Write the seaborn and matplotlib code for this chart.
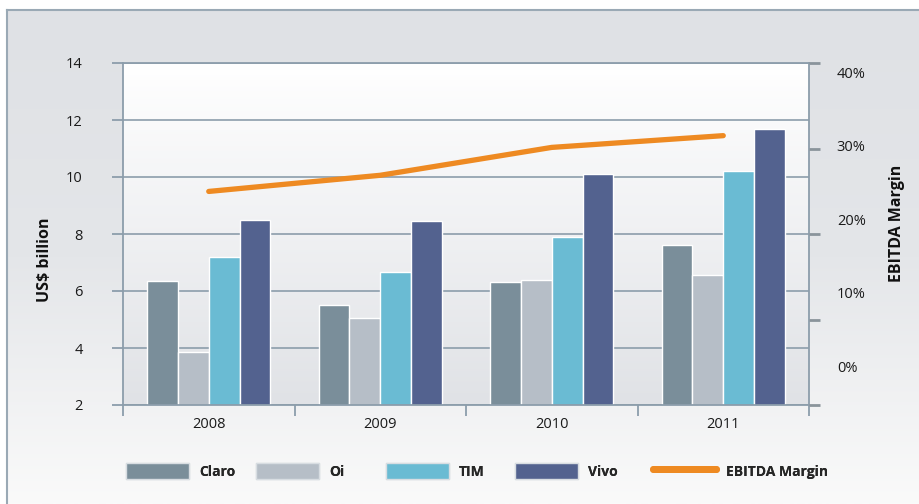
import numpy as np
import pandas as pd
import seaborn as sns
import matplotlib.pyplot as plt
from matplotlib.patches import Patch
from matplotlib.lines import Line2D
from matplotlib.colors import LinearSegmentedColormap

# data
years = ['2008', '2009', '2010', '2011']
operators = ['Claro', 'Oi', 'TIM', 'Vivo']
claro = [6.35, 5.5, 6.3, 7.6]
oi = [3.85, 5.05, 6.4, 6.55]
tim = [7.2, 6.65, 7.9, 10.2]
vivo = [8.5, 8.45, 10.1, 11.7]
ebitda_margin = [23.8, 26.0, 29.8, 31.4]
left_ticks = [2, 4, 6, 8, 10, 12, 14]
right_ticks = [0, 10, 20, 30, 40]

colors = ['#7a8e9a', '#b6bec7', '#6abbd3', '#53628f']
orange = '#ee8a22'
grid_col = '#8c9dab'

df = pd.DataFrame({'year': np.repeat(years, 4),
                   'operator': operators * 4,
                   'value': np.array([claro, oi, tim, vivo]).T.ravel()})

sns.set_theme(style='white')
plt.rcParams['font.family'] = ['Open Sans', 'DejaVu Sans']

fig = plt.figure(figsize=(9.19, 5.04), dpi=100)
W, H = 919, 504

# figure background with frame
bg = fig.add_axes([7 / W, 0, 1 - 7 / W, 1 - 10 / H], zorder=-10)
bg_cmap = LinearSegmentedColormap.from_list('bg', ['#dfe1e5', '#e4e6e9', '#fafafa'])
bg.imshow(np.linspace(0, 1, 256).reshape(-1, 1), cmap=bg_cmap, aspect='auto',
          extent=[0, 1, 0, 1])
bg.set_xlim(0, 1)
bg.set_ylim(0, 1)
bg.set_xticks([])
bg.set_yticks([])
for s in ['right', 'bottom']:
    bg.spines[s].set_visible(False)
for s in ['left', 'top']:
    bg.spines[s].set_color('#9aa9b5')
    bg.spines[s].set_linewidth(1.5)

ax = fig.add_axes([123 / W, 1 - 405 / H, (809 - 123) / W, (405 - 63) / H])
ax_cmap = LinearSegmentedColormap.from_list('ax', ['#ffffff', '#e0e2e6'])
ax.imshow(np.linspace(0, 1, 256).reshape(-1, 1), cmap=ax_cmap, aspect='auto',
          extent=[0, 1, 0, 1], transform=ax.transAxes, zorder=0)

sns.barplot(data=df, x='year', y='value', hue='operator', palette=colors,
            width=0.72, edgecolor='white', linewidth=1, saturation=1,
            legend=False, ax=ax, zorder=2)

ax.set_xlim(-0.5, 3.5)
ax.set_ylim(2, 14)
ax.set_yticks(left_ticks)
ax.set_axisbelow(True)
ax.yaxis.grid(True, color=grid_col, linewidth=1.2)
ax.set_xlabel('')
ax.set_ylabel('')
for s in ax.spines.values():
    s.set_color(grid_col)
    s.set_linewidth(1.3)
ax.tick_params(axis='y', length=8, width=1.3, color=grid_col, direction='out',
               pad=21, labelsize=10.5, labelcolor='#1a1a1a', left=True)
ax.set_xticks(range(len(years)))
ax.set_xticklabels(years)
ax.set_xticks(np.arange(-0.5, len(years), 1), minor=True)
ax.tick_params(axis='x', which='major', length=0, pad=9, labelsize=10.5,
               labelcolor='#1a1a1a')
ax.tick_params(axis='x', which='minor', length=8, width=1.3, color=grid_col,
               direction='out', bottom=True)

# EBITDA margin on the secondary axis
ax2 = ax.twinx()
sns.lineplot(x=np.arange(len(years)), y=ebitda_margin, ax=ax2, color=orange,
             linewidth=3.8, solid_capstyle='round', zorder=5)
ax2.set_ylim(-5.3, 41.3)
ax2.set_yticks(right_ticks)
ax2.set_yticklabels([f'{t}%' for t in right_ticks])
ax2.set_yticks(np.linspace(-5.3, 41.3, 5), minor=True)
ax2.tick_params(axis='y', which='major', length=0, pad=20, labelsize=10.5,
                labelcolor='#1a1a1a', right=True)
ax2.tick_params(axis='y', which='minor', length=8, width=2, color='#8a949b',
                direction='out', right=True)
for s in ax2.spines.values():
    s.set_visible(False)

fig.text(45 / W, 1 - 260 / H, 'US$ billion', rotation=90, ha='center',
         va='center', fontsize=11.5, fontweight='bold', color='#111111')
fig.text(897 / W, 1 - 223 / H, 'EBITDA Margin', rotation=90, ha='center',
         va='center', fontsize=11.5, fontweight='bold', color='#111111')

# legend, one entry at a time to keep the spacing of the original
handles = [Patch(facecolor=c, edgecolor='#d8dde2', linewidth=1) for c in colors]
handles.append(Line2D([0], [0], color=orange, linewidth=5, solid_capstyle='round'))
labels = operators + ['EBITDA Margin']
starts = [126, 256, 386, 515, 653]
for h, lab, x0 in zip(handles, labels, starts):
    leg = fig.legend(handles=[h], labels=[lab], loc='center left',
                     bbox_to_anchor=(x0 / W, 1 - 471 / H), frameon=False,
                     handlelength=4.5, handleheight=1.5, handletextpad=0.75,
                     borderpad=0, borderaxespad=0,
                     prop={'weight': 'bold', 'size': 10})
    fig.add_artist(leg)

fig.savefig('out.png', dpi=100)
